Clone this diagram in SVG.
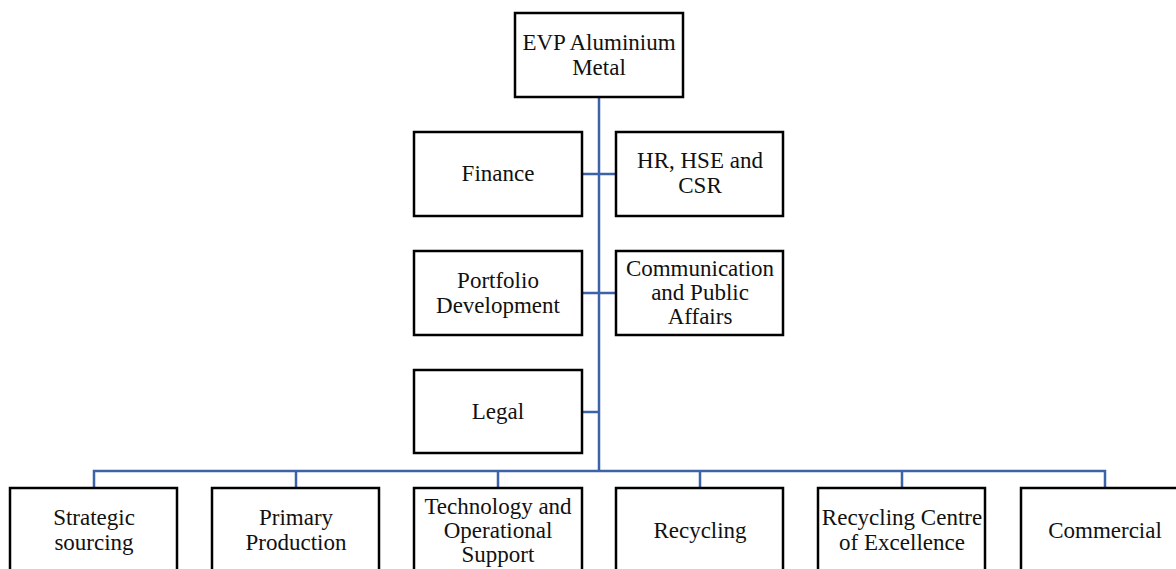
<svg xmlns="http://www.w3.org/2000/svg" width="1176" height="569" viewBox="0 0 1176 569">
<style>
.box{fill:#fff;stroke:#000;stroke-width:2.5}
.c{fill:none;stroke:#3c62a8;stroke-width:2.5}
text{font-family:"Liberation Serif","Times New Roman",serif;font-size:23px;fill:#111;text-anchor:middle}
</style>
<rect width="1176" height="569" fill="#fff"/>
<g id="connectors">
<path class="c" d="M599 97V471"/>
<path class="c" d="M582 174H616"/>
<path class="c" d="M582 293H616"/>
<path class="c" d="M582 412H599"/>
<path class="c" d="M94 488V471H1105V488"/>
<path class="c" d="M296 471V488M498 471V488M700 471V488M902 471V488"/>
</g>
<g id="evp"><rect class="box" x="515" y="13" width="168" height="84"/><text x="599" y="50">EVP Aluminium</text><text x="599" y="75">Metal</text></g>
<g id="finance"><rect class="box" x="414" y="132" width="168" height="84"/><text x="498" y="181">Finance</text></g>
<g id="hr"><rect class="box" x="616" y="132" width="167" height="84"/><text x="700" y="168">HR, HSE and</text><text x="700" y="193">CSR</text></g>
<g id="portfolio"><rect class="box" x="414" y="251" width="168" height="84"/><text x="498" y="288">Portfolio</text><text x="498" y="313">Development</text></g>
<g id="communication"><rect class="box" x="616" y="251" width="167" height="84"/><text x="700" y="276">Communication</text><text x="700" y="300">and Public</text><text x="700" y="324">Affairs</text></g>
<g id="legal"><rect class="box" x="414" y="370" width="168" height="83"/><text x="498" y="419">Legal</text></g>
<g id="strategic"><rect class="box" x="10" y="488" width="167" height="100"/><text x="94" y="525">Strategic</text><text x="94" y="550">sourcing</text></g>
<g id="primary"><rect class="box" x="212" y="488" width="167" height="100"/><text x="296" y="525">Primary</text><text x="296" y="550">Production</text></g>
<g id="technology"><rect class="box" x="414" y="488" width="168" height="100"/><text x="498" y="514">Technology and</text><text x="498" y="538">Operational</text><text x="498" y="562">Support</text></g>
<g id="recycling"><rect class="box" x="616" y="488" width="167" height="100"/><text x="700" y="538">Recycling</text></g>
<g id="recycling-coe"><rect class="box" x="818" y="488" width="167" height="100"/><text x="902" y="525">Recycling Centre</text><text x="902" y="550">of Excellence</text></g>
<g id="commercial"><rect class="box" x="1021" y="488" width="167" height="100"/><text x="1105" y="538">Commercial</text></g>
</svg>
